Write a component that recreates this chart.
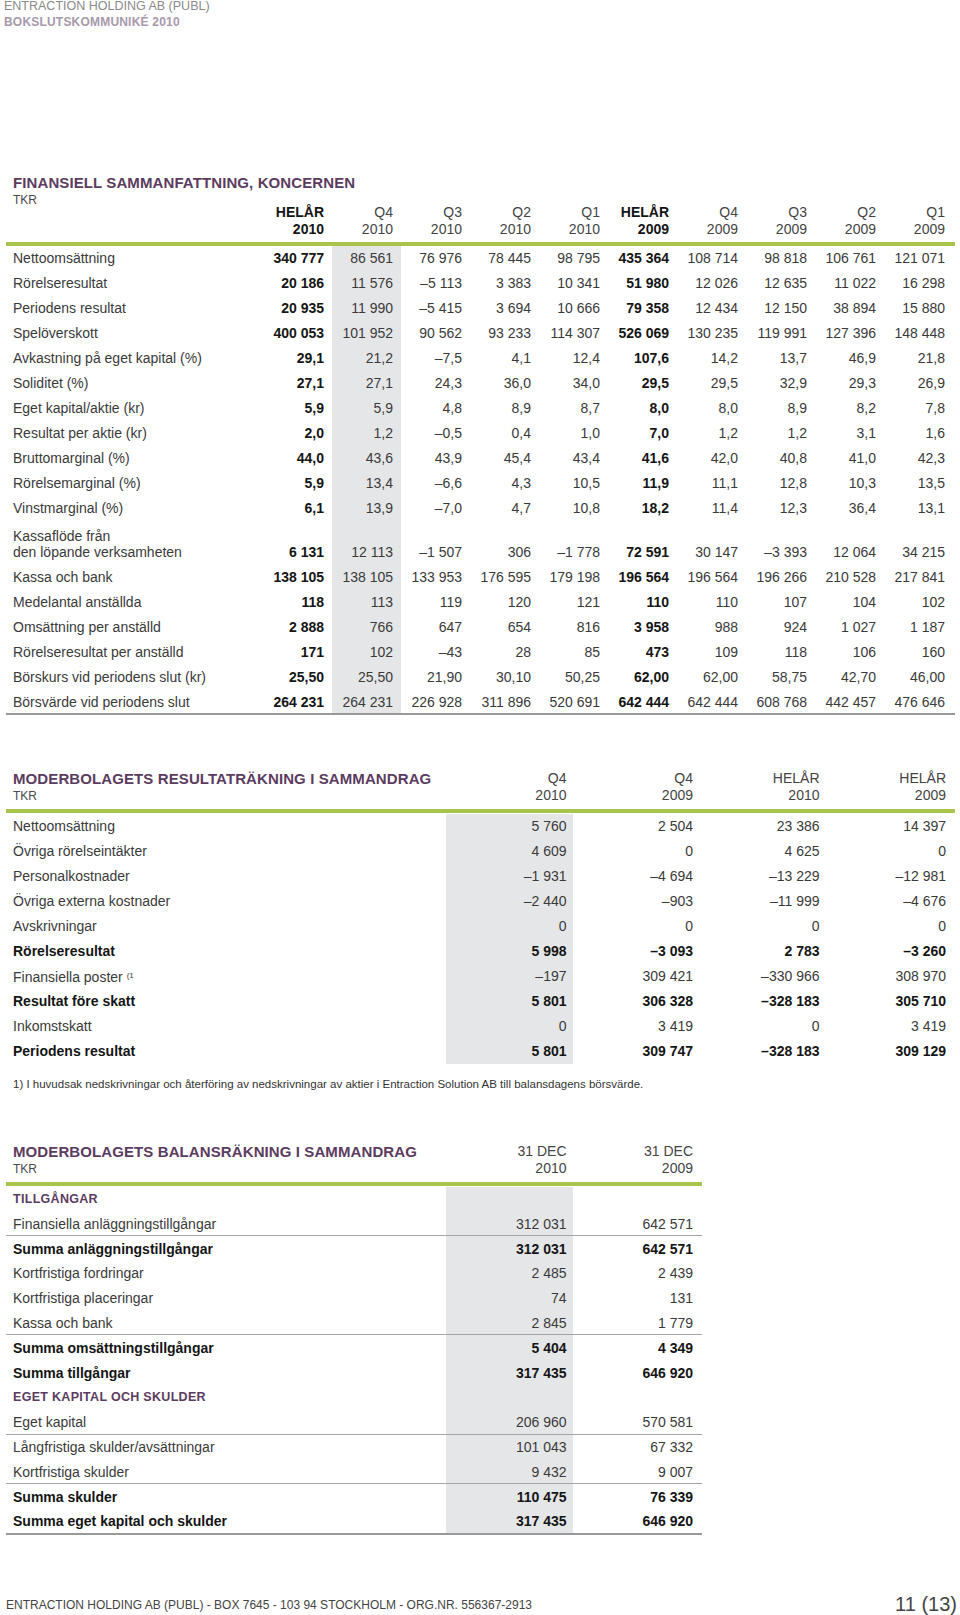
import React from "react";

const FONT = '"Liberation Sans", Arial, Helvetica, sans-serif';
const PURPLE = "#5b3c60";
const GREEN = "#a9c44b";
const SHADE = "#e5e6e8";
const INK = "#3a3a3a";
const BOLD_INK = "#151515";
const RULE = "#a5a5a5";

// ---- Finansiell sammanfattning, koncernen ----
const koncernHead = [
  ["HELÅR", "2010"], ["Q4", "2010"], ["Q3", "2010"], ["Q2", "2010"], ["Q1", "2010"],
  ["HELÅR", "2009"], ["Q4", "2009"], ["Q3", "2009"], ["Q2", "2009"], ["Q1", "2009"],
];
const koncernBoldCols = [0, 5];

const nettoomsattning = ["340 777", "86 561", "76 976", "78 445", "98 795", "435 364", "108 714", "98 818", "106 761", "121 071"];
const rorelseresultat = ["20 186", "11 576", "–5 113", "3 383", "10 341", "51 980", "12 026", "12 635", "11 022", "16 298"];
const periodensResultat = ["20 935", "11 990", "–5 415", "3 694", "10 666", "79 358", "12 434", "12 150", "38 894", "15 880"];
const speloverskott = ["400 053", "101 952", "90 562", "93 233", "114 307", "526 069", "130 235", "119 991", "127 396", "148 448"];
const avkastning = ["29,1", "21,2", "–7,5", "4,1", "12,4", "107,6", "14,2", "13,7", "46,9", "21,8"];
const soliditet = ["27,1", "27,1", "24,3", "36,0", "34,0", "29,5", "29,5", "32,9", "29,3", "26,9"];
const egetKapitalAktie = ["5,9", "5,9", "4,8", "8,9", "8,7", "8,0", "8,0", "8,9", "8,2", "7,8"];
const resultatPerAktie = ["2,0", "1,2", "–0,5", "0,4", "1,0", "7,0", "1,2", "1,2", "3,1", "1,6"];
const bruttomarginal = ["44,0", "43,6", "43,9", "45,4", "43,4", "41,6", "42,0", "40,8", "41,0", "42,3"];
const rorelsemarginal = ["5,9", "13,4", "–6,6", "4,3", "10,5", "11,9", "11,1", "12,8", "10,3", "13,5"];
const vinstmarginal = ["6,1", "13,9", "–7,0", "4,7", "10,8", "18,2", "11,4", "12,3", "36,4", "13,1"];
const kassaflode = ["6 131", "12 113", "–1 507", "306", "–1 778", "72 591", "30 147", "–3 393", "12 064", "34 215"];
const kassaOchBank = ["138 105", "138 105", "133 953", "176 595", "179 198", "196 564", "196 564", "196 266", "210 528", "217 841"];
const medelantal = ["118", "113", "119", "120", "121", "110", "110", "107", "104", "102"];
const omsattningPerAnst = ["2 888", "766", "647", "654", "816", "3 958", "988", "924", "1 027", "1 187"];
const rorelseresPerAnst = ["171", "102", "–43", "28", "85", "473", "109", "118", "106", "160"];
const borskurs = ["25,50", "25,50", "21,90", "30,10", "50,25", "62,00", "62,00", "58,75", "42,70", "46,00"];
const borsvarde = ["264 231", "264 231", "226 928", "311 896", "520 691", "642 444", "642 444", "608 768", "442 457", "476 646"];

// ---- Moderbolagets resultaträkning ----
const resHead = [["Q4", "2010"], ["Q4", "2009"], ["HELÅR", "2010"], ["HELÅR", "2009"]];
const mbNetto = ["5 760", "2 504", "23 386", "14 397"];
const mbOvrigaIntakter = ["4 609", "0", "4 625", "0"];
const mbPersonal = ["–1 931", "–4 694", "–13 229", "–12 981"];
const mbExterna = ["–2 440", "–903", "–11 999", "–4 676"];
const mbAvskrivningar = ["0", "0", "0", "0"];
const mbRorelseres = ["5 998", "–3 093", "2 783", "–3 260"];
const mbFinansiella = ["–197", "309 421", "–330 966", "308 970"];
const mbForeSkatt = ["5 801", "306 328", "–328 183", "305 710"];
const mbSkatt = ["0", "3 419", "0", "3 419"];
const mbPeriodens = ["5 801", "309 747", "–328 183", "309 129"];

// ---- Moderbolagets balansräkning ----
const balHead = [["31 DEC", "2010"], ["31 DEC", "2009"]];
const balFinAnl = ["312 031", "642 571"];
const balSummaAnl = ["312 031", "642 571"];
const balFordringar = ["2 485", "2 439"];
const balPlaceringar = ["74", "131"];
const balKassa = ["2 845", "1 779"];
const balSummaOms = ["5 404", "4 349"];
const balSummaTillg = ["317 435", "646 920"];
const balEgetKapital = ["206 960", "570 581"];
const balLangfristiga = ["101 043", "67 332"];
const balKortfristiga = ["9 432", "9 007"];
const balSummaSkulder = ["110 475", "76 339"];
const balSummaEKS = ["317 435", "646 920"];

type Row = {
  label: React.ReactNode[];
  values?: string[];
  bold?: boolean;
  section?: boolean;
  lineBelow?: boolean;
  h?: number;
};

const koncernRows: Row[] = [
  { label: ["Nettoomsättning"], values: nettoomsattning },
  { label: ["Rörelseresultat"], values: rorelseresultat },
  { label: ["Periodens resultat"], values: periodensResultat },
  { label: ["Spelöverskott"], values: speloverskott },
  { label: ["Avkastning på eget kapital (%)"], values: avkastning },
  { label: ["Soliditet (%)"], values: soliditet },
  { label: ["Eget kapital/aktie (kr)"], values: egetKapitalAktie },
  { label: ["Resultat per aktie (kr)"], values: resultatPerAktie },
  { label: ["Bruttomarginal (%)"], values: bruttomarginal },
  { label: ["Rörelsemarginal (%)"], values: rorelsemarginal },
  { label: ["Vinstmarginal (%)"], values: vinstmarginal },
  { label: ["Kassaflöde från", "den löpande verksamheten"], values: kassaflode, h: 43 },
  { label: ["Kassa och bank"], values: kassaOchBank },
  { label: ["Medelantal anställda"], values: medelantal },
  { label: ["Omsättning per anställd"], values: omsattningPerAnst },
  { label: ["Rörelseresultat per anställd"], values: rorelseresPerAnst },
  { label: ["Börskurs vid periodens slut (kr)"], values: borskurs },
  { label: ["Börsvärde vid periodens slut"], values: borsvarde, lineBelow: true },
];

const resRows: Row[] = [
  { label: ["Nettoomsättning"], values: mbNetto },
  { label: ["Övriga rörelseintäkter"], values: mbOvrigaIntakter },
  { label: ["Personalkostnader"], values: mbPersonal },
  { label: ["Övriga externa kostnader"], values: mbExterna },
  { label: ["Avskrivningar"], values: mbAvskrivningar },
  { label: ["Rörelseresultat"], values: mbRorelseres, bold: true },
  {
    label: [
      <span key="f">
        Finansiella poster <sup style={{ fontSize: 8, verticalAlign: "4px" }}>(1</sup>
      </span>,
    ],
    values: mbFinansiella,
  },
  { label: ["Resultat före skatt"], values: mbForeSkatt, bold: true },
  { label: ["Inkomstskatt"], values: mbSkatt },
  { label: ["Periodens resultat"], values: mbPeriodens, bold: true },
];

const balRows: Row[] = [
  { label: ["TILLGÅNGAR"], section: true },
  { label: ["Finansiella anläggningstillgångar"], values: balFinAnl, lineBelow: true },
  { label: ["Summa anläggningstillgångar"], values: balSummaAnl, bold: true },
  { label: ["Kortfristiga fordringar"], values: balFordringar },
  { label: ["Kortfristiga placeringar"], values: balPlaceringar },
  { label: ["Kassa och bank"], values: balKassa, lineBelow: true },
  { label: ["Summa omsättningstillgångar"], values: balSummaOms, bold: true },
  { label: ["Summa tillgångar"], values: balSummaTillg, bold: true },
  { label: ["EGET KAPITAL OCH SKULDER"], section: true },
  { label: ["Eget kapital"], values: balEgetKapital, lineBelow: true },
  { label: ["Långfristiga skulder/avsättningar"], values: balLangfristiga },
  { label: ["Kortfristiga skulder"], values: balKortfristiga, lineBelow: true },
  { label: ["Summa skulder"], values: balSummaSkulder, bold: true },
  { label: ["Summa eget kapital och skulder"], values: balSummaEKS, bold: true, lineBelow: true },
];

type TableProps = {
  left: number;
  width: number;
  title: string;
  titleY: number;
  headY: number;
  head: string[][];
  boldHead?: number[];
  ruleY: number;
  rowsY: number;
  rows: Row[];
  labelWidth: number;
  colWidth: number;
  padRight: number;
  shadeCol: number;
  boldCols?: number[];
  rowH: number;
};

function DataTable(p: TableProps) {
  const ncol = p.head.length;
  return (
    <>
      <div
        style={{
          position: "absolute", left: p.left + 7, top: p.titleY - 9, lineHeight: "18px",
          fontSize: 15, fontWeight: 700, color: PURPLE, letterSpacing: 0.1, whiteSpace: "nowrap",
        }}
      >
        {p.title}
      </div>
      <div
        style={{
          position: "absolute", left: p.left + 7, top: p.titleY + 9, lineHeight: "16px",
          fontSize: 12, color: "#4a4a4a",
        }}
      >
        TKR
      </div>
      <div style={{ position: "absolute", left: p.left + p.labelWidth, top: p.headY - 8.5, display: "flex" }}>
        {p.head.map((h, i) => (
          <div
            key={i}
            style={{
              width: p.colWidth, paddingRight: p.padRight, boxSizing: "border-box", textAlign: "right",
              fontSize: 14, lineHeight: "17px",
              fontWeight: p.boldHead?.includes(i) ? 700 : 400,
              color: p.boldHead?.includes(i) ? BOLD_INK : "#444",
            }}
          >
            <div>{h[0]}</div>
            <div>{h[1]}</div>
          </div>
        ))}
      </div>
      <div style={{ position: "absolute", left: p.left, top: p.ruleY, width: p.width, height: 4, background: GREEN }} />
      <div style={{ position: "absolute", left: p.left, top: p.rowsY, width: p.width }}>
        {p.rows.map((r, ri) => {
          const h = r.h ?? p.rowH;
          const tall = r.label.length > 1;
          const last = ri === p.rows.length - 1;
          const cellBase: React.CSSProperties = {
            height: h, boxSizing: "border-box", display: "flex", flexDirection: "column",
            justifyContent: tall ? "flex-end" : "center", paddingBottom: tall ? 4.5 : 0,
            lineHeight: "16px",
          };
          return (
            <div key={ri} style={{ display: "flex", height: h, position: "relative" }}>
              <div
                style={{
                  ...cellBase, width: p.labelWidth, paddingLeft: 7, whiteSpace: "nowrap",
                  fontSize: r.section ? 12.5 : 14,
                  fontWeight: r.bold || r.section ? 700 : 400,
                  letterSpacing: r.section ? 0.3 : 0,
                  color: r.section ? PURPLE : r.bold ? BOLD_INK : INK,
                }}
              >
                {r.label.map((l, li) => (
                  <div key={li}>{l}</div>
                ))}
              </div>
              {Array.from({ length: ncol }).map((_, ci) => {
                const v = r.values ? r.values[ci] : "";
                const b = r.bold || p.boldCols?.includes(ci);
                return (
                  <div
                    key={ci}
                    style={{
                      ...cellBase, width: p.colWidth, paddingRight: p.padRight, alignItems: "flex-end",
                      background: ci === p.shadeCol ? SHADE : "transparent",
                      fontSize: 14, fontWeight: b ? 700 : 400, color: b ? BOLD_INK : INK,
                      whiteSpace: "nowrap",
                    }}
                  >
                    {v}
                  </div>
                );
              })}
              {r.lineBelow && (
                <div
                  style={{
                    position: "absolute", left: 0, right: 0, bottom: last ? -1 : 0,
                    height: last ? 2 : 1, background: last ? "#999" : RULE,
                  }}
                />
              )}
            </div>
          );
        })}
      </div>
    </>
  );
}

export default function App() {
  return (
    <div
      style={{
        position: "absolute", left: 0, top: 0, width: 960, height: 1615, background: "#fff",
        fontFamily: FONT, color: INK, overflow: "hidden",
      }}
    >
      <div style={{ position: "absolute", left: 4, top: 0, fontSize: 12.5, lineHeight: "13px", color: "#8a8a8a" }}>
        ENTRACTION HOLDING AB (PUBL)
      </div>
      <div
        style={{
          position: "absolute", left: 4, top: 15, fontSize: 12, lineHeight: "14px", fontWeight: 700,
          color: "#a898ab", letterSpacing: 0.2,
        }}
      >
        BOKSLUTSKOMMUNIKÉ 2010
      </div>

      <DataTable
        left={6}
        width={949}
        title="FINANSIELL SAMMANFATTNING, KONCERNEN"
        titleY={183}
        headY={212}
        head={koncernHead}
        boldHead={koncernBoldCols}
        ruleY={241.5}
        rowsY={245.5}
        rows={koncernRows}
        labelWidth={256.5}
        colWidth={69}
        padRight={7.5}
        shadeCol={1}
        boldCols={koncernBoldCols}
        rowH={25.05}
      />

      <DataTable
        left={6}
        width={949}
        title="MODERBOLAGETS RESULTATRÄKNING I SAMMANDRAG"
        titleY={778.5}
        headY={778.5}
        head={resHead}
        ruleY={809}
        rowsY={813.5}
        rows={resRows}
        labelWidth={440}
        colWidth={126.5}
        padRight={6}
        shadeCol={0}
        rowH={25.05}
      />

      <div style={{ position: "absolute", left: 13, top: 1076.5, fontSize: 11.5, lineHeight: "14px", color: "#333" }}>
        1) I huvudsak nedskrivningar och återföring av nedskrivningar av aktier i Entraction Solution AB till
        balansdagens börsvärde.
      </div>

      <DataTable
        left={6}
        width={696}
        title="MODERBOLAGETS BALANSRÄKNING I SAMMANDRAG"
        titleY={1151.5}
        headY={1151.5}
        head={balHead}
        ruleY={1181.5}
        rowsY={1186.6}
        rows={balRows}
        labelWidth={440}
        colWidth={126.5}
        padRight={6}
        shadeCol={0}
        rowH={24.8}
      />

      <svg width={960} height={40} style={{ position: "absolute", left: 0, top: 1580 }}>
        <text
          x={6}
          y={28.5}
          fontSize={12.5}
          fill="#444"
          fontFamily={FONT}
          textLength={526}
          lengthAdjust="spacingAndGlyphs"
        >
          ENTRACTION HOLDING AB (PUBL) - BOX 7645 - 103 94 STOCKHOLM - ORG.NR. 556367-2913
        </text>
        <text x={957} y={31} fontSize={20} fill="#444" fontFamily={FONT} textAnchor="end">
          11 (13)
        </text>
      </svg>
    </div>
  );
}
